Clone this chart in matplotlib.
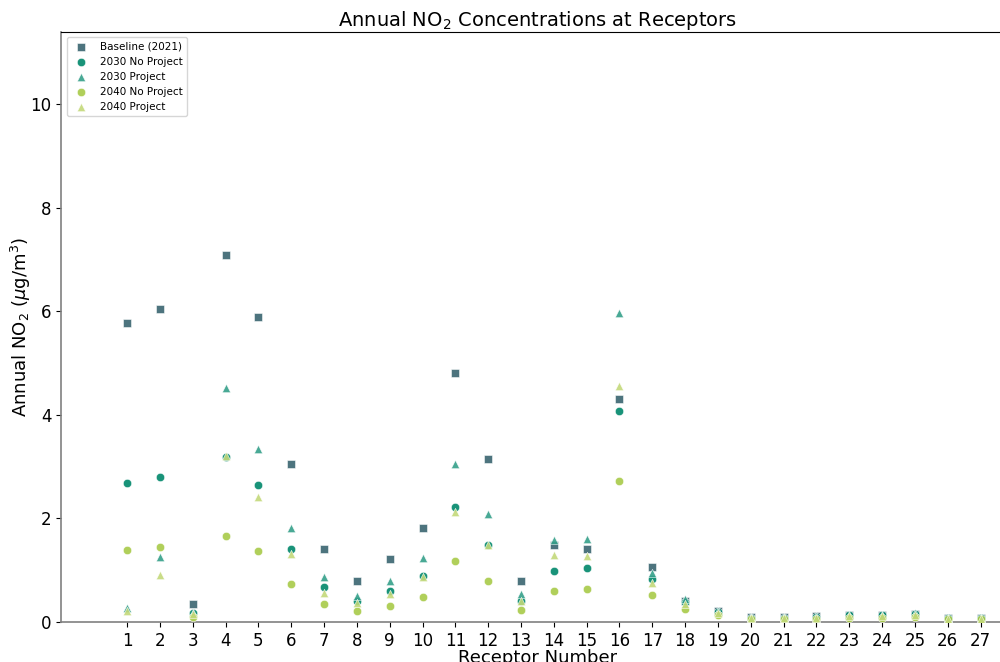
import matplotlib
matplotlib.use("Agg")
import matplotlib.pyplot as plt

receptors = list(range(1, 28))

baseline_2021 = [5.78, 6.05, 0.35, 7.10, 5.89, 3.05, 1.41, 0.80, 1.22, 1.82,
                 4.81, 3.14, 0.80, 1.49, 1.41, 4.31, 1.07, 0.41, 0.21, 0.09,
                 0.09, 0.11, 0.14, 0.14, 0.16, 0.08, 0.08]
no_project_2030 = [2.68, 2.80, 0.17, 3.19, 2.65, 1.41, 0.67, 0.40, 0.60, 0.89,
                   2.23, 1.48, 0.41, 0.99, 1.04, 4.07, 0.83, 0.39, 0.20, 0.08,
                   0.08, 0.10, 0.13, 0.13, 0.15, 0.08, 0.07]
project_2030 = [0.28, 1.25, 0.18, 4.53, 3.34, 1.82, 0.87, 0.51, 0.79, 1.23,
                3.06, 2.09, 0.55, 1.58, 1.60, 5.97, 0.95, 0.44, 0.22, 0.09,
                0.10, 0.11, 0.14, 0.14, 0.17, 0.08, 0.08]
no_project_2040 = [1.40, 1.45, 0.09, 1.66, 1.38, 0.74, 0.34, 0.21, 0.31, 0.48,
                   1.17, 0.79, 0.23, 0.59, 0.64, 2.72, 0.52, 0.26, 0.13, 0.05,
                   0.05, 0.06, 0.08, 0.08, 0.10, 0.05, 0.05]
project_2040 = [0.21, 0.90, 0.15, 3.21, 2.41, 1.31, 0.57, 0.36, 0.54, 0.87,
                2.12, 1.49, 0.41, 1.29, 1.27, 4.56, 0.76, 0.35, 0.17, 0.07,
                0.07, 0.08, 0.11, 0.11, 0.13, 0.06, 0.06]

series = [
    ("Baseline (2021)", baseline_2021, "s", "#3a6570"),
    ("2030 No Project", no_project_2030, "o", "#00876a"),
    ("2030 Project", project_2030, "^", "#35a08a"),
    ("2040 No Project", no_project_2040, "o", "#a8ca48"),
    ("2040 Project", project_2040, "^", "#c3d97a"),
]

fig = plt.figure(figsize=(10, 6.62), dpi=100)
ax = fig.add_axes([0.0614, 40 / 662, 0.952, 590 / 662])

for label, values, marker, color in series:
    ax.scatter(receptors, values, marker=marker, s=36, color=color,
               alpha=0.9, edgecolors="white", linewidths=0.4, label=label,
               zorder=3)

ax.set_xlim(-1, 28)
ax.set_ylim(0, 11.4)
ax.set_xticks(receptors)
ax.set_yticks([0, 2, 4, 6, 8, 10])
ax.tick_params(labelsize=12)

ax.spines["left"].set_color("#808080")
ax.spines["bottom"].set_color("#808080")
ax.spines["left"].set_linewidth(1.2)
ax.spines["bottom"].set_linewidth(1.2)

ax.set_title("Annual NO$_2$ Concentrations at Receptors", fontsize=14, pad=4.5)
ax.set_xlabel("Receptor Number", fontsize=13, labelpad=-0.5)
ax.set_ylabel("Annual NO$_2$ ($\\mu$g/m$^3$)", fontsize=13, labelpad=-2)

ax.legend(loc="upper left", fontsize=7.5, markerscale=1.0)

fig.savefig("out.png", dpi=100)
